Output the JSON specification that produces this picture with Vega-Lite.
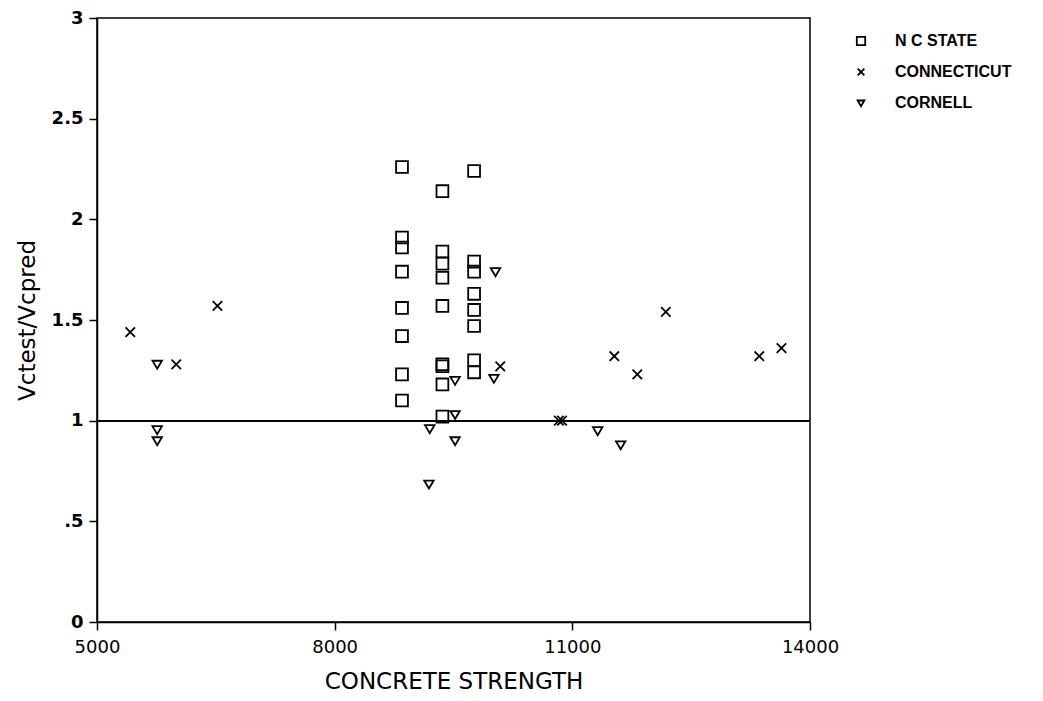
{
  "$schema": "https://vega.github.io/schema/vega-lite/v6.json",
  "width": 713,
  "height": 604,
  "autosize": {"type": "none"},
  "padding": {"left": 97, "top": 18, "right": 233, "bottom": 79},
  "background": "white",
  "config": {
    "view": {"stroke": "black", "strokeWidth": 1.5},
    "font": "DejaVu Sans"
  },
  "data": {
    "values": [
      {"strength": 8850, "ratio": 2.26, "source": "N C STATE"},
      {"strength": 8850, "ratio": 1.91, "source": "N C STATE"},
      {"strength": 8850, "ratio": 1.86, "source": "N C STATE"},
      {"strength": 8850, "ratio": 1.74, "source": "N C STATE"},
      {"strength": 8850, "ratio": 1.56, "source": "N C STATE"},
      {"strength": 8850, "ratio": 1.42, "source": "N C STATE"},
      {"strength": 8850, "ratio": 1.23, "source": "N C STATE"},
      {"strength": 8850, "ratio": 1.10, "source": "N C STATE"},
      {"strength": 9360, "ratio": 2.14, "source": "N C STATE"},
      {"strength": 9360, "ratio": 1.84, "source": "N C STATE"},
      {"strength": 9360, "ratio": 1.78, "source": "N C STATE"},
      {"strength": 9360, "ratio": 1.71, "source": "N C STATE"},
      {"strength": 9360, "ratio": 1.57, "source": "N C STATE"},
      {"strength": 9360, "ratio": 1.28, "source": "N C STATE"},
      {"strength": 9360, "ratio": 1.27, "source": "N C STATE"},
      {"strength": 9360, "ratio": 1.18, "source": "N C STATE"},
      {"strength": 9360, "ratio": 1.02, "source": "N C STATE"},
      {"strength": 9760, "ratio": 2.24, "source": "N C STATE"},
      {"strength": 9760, "ratio": 1.79, "source": "N C STATE"},
      {"strength": 9760, "ratio": 1.74, "source": "N C STATE"},
      {"strength": 9760, "ratio": 1.63, "source": "N C STATE"},
      {"strength": 9760, "ratio": 1.55, "source": "N C STATE"},
      {"strength": 9760, "ratio": 1.47, "source": "N C STATE"},
      {"strength": 9760, "ratio": 1.30, "source": "N C STATE"},
      {"strength": 9760, "ratio": 1.24, "source": "N C STATE"},
      {"strength": 5420, "ratio": 1.44, "source": "CONNECTICUT"},
      {"strength": 6000, "ratio": 1.28, "source": "CONNECTICUT"},
      {"strength": 6520, "ratio": 1.57, "source": "CONNECTICUT"},
      {"strength": 10090, "ratio": 1.27, "source": "CONNECTICUT"},
      {"strength": 10830, "ratio": 1.0, "source": "CONNECTICUT"},
      {"strength": 10870, "ratio": 1.0, "source": "CONNECTICUT"},
      {"strength": 11530, "ratio": 1.32, "source": "CONNECTICUT"},
      {"strength": 11820, "ratio": 1.23, "source": "CONNECTICUT"},
      {"strength": 12180, "ratio": 1.54, "source": "CONNECTICUT"},
      {"strength": 13360, "ratio": 1.32, "source": "CONNECTICUT"},
      {"strength": 13640, "ratio": 1.36, "source": "CONNECTICUT"},
      {"strength": 5760, "ratio": 1.28, "source": "CORNELL"},
      {"strength": 5760, "ratio": 0.955, "source": "CORNELL"},
      {"strength": 5760, "ratio": 0.90, "source": "CORNELL"},
      {"strength": 9200, "ratio": 0.96, "source": "CORNELL"},
      {"strength": 9190, "ratio": 0.685, "source": "CORNELL"},
      {"strength": 9520, "ratio": 1.20, "source": "CORNELL"},
      {"strength": 9520, "ratio": 1.03, "source": "CORNELL"},
      {"strength": 9520, "ratio": 0.90, "source": "CORNELL"},
      {"strength": 10010, "ratio": 1.21, "source": "CORNELL"},
      {"strength": 10030, "ratio": 1.74, "source": "CORNELL"},
      {"strength": 11320, "ratio": 0.95, "source": "CORNELL"},
      {"strength": 11610, "ratio": 0.88, "source": "CORNELL"}
    ]
  },
  "layer": [
    {
      "mark": {"type": "rule", "color": "black", "strokeWidth": 1.5},
      "encoding": {"y": {"datum": 1, "type": "quantitative", "scale": {"domain": [0, 3]}}}
    },
    {
      "mark": {"type": "point", "filled": false, "color": "black", "strokeWidth": 1.8, "opacity": 1, "size": 140},
      "encoding": {
        "x": {
          "field": "strength",
          "type": "quantitative",
          "scale": {"domain": [5000, 14000], "nice": false, "zero": false},
          "axis": {
            "values": [5000, 8000, 11000, 14000],
            "format": "d",
            "grid": false,
            "domainColor": "black",
            "domainWidth": 1.5,
            "tickColor": "black",
            "tickSize": 8,
            "tickWidth": 1.5,
            "labelFontSize": 18,
            "labelColor": "black",
            "labelPadding": 8,
            "labelFlush": false,
            "title": "CONCRETE  STRENGTH",
            "titleFontSize": 23,
            "titleFontWeight": "normal",
            "titleColor": "black",
            "titlePadding": 14
          }
        },
        "y": {
          "field": "ratio",
          "type": "quantitative",
          "scale": {"domain": [0, 3], "nice": false},
          "axis": {
            "values": [0, 0.5, 1, 1.5, 2, 2.5, 3],
            "format": "~g",
            "labelExpr": "datum.value == 0.5 ? '.5' : datum.label",
            "grid": false,
            "domainColor": "black",
            "domainWidth": 1.5,
            "tickColor": "black",
            "tickSize": 8,
            "tickWidth": 1.5,
            "labelFontSize": 18,
            "labelFontWeight": "bold",
            "labelColor": "black",
            "labelPadding": 6,
            "labelFlush": false,
            "title": "Vctest/Vcpred",
            "titleFontSize": 23,
            "titleFontWeight": "normal",
            "titleColor": "black",
            "titlePadding": 12
          }
        },
        "shape": {
          "field": "source",
          "type": "nominal",
          "scale": {
            "domain": ["N C STATE", "CONNECTICUT", "CORNELL"],
            "range": ["square", "M-0.8,-0.8L0.8,0.8M-0.8,0.8L0.8,-0.8", "M-0.8,-0.6L0.8,-0.6L0,0.75Z"]
          },
          "legend": {
            "title": null,
            "orient": "none",
            "legendX": 756,
            "legendY": 15,
            "padding": 0,
            "labelFont": "Liberation Sans",
            "labelFontSize": 16,
            "labelFontWeight": "bold",
            "labelColor": "black",
            "labelOffset": 26,
            "rowPadding": 15,
            "symbolSize": 70,
            "symbolStrokeColor": "black",
            "symbolStrokeWidth": 1.8,
            "symbolFillColor": "transparent"
          }
        }
      }
    }
  ]
}
